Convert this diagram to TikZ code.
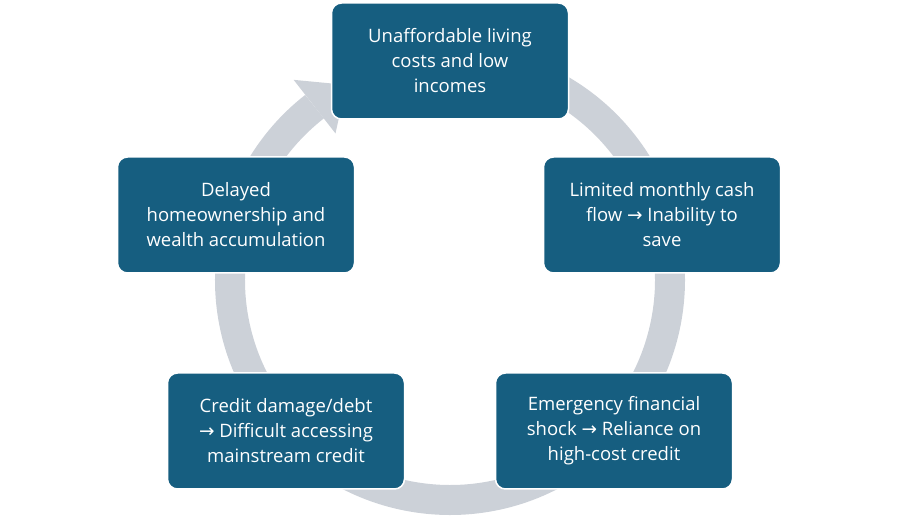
\documentclass[tikz,border=0pt]{standalone}
\usepackage{fontspec}
\setmainfont{Open Sans}
\newfontfamily\symf{DejaVu Sans}
\definecolor{boxc}{HTML}{165E80}
\definecolor{ringc}{HTML}{CCD1D8}
\begin{document}
\begin{tikzpicture}[x=1pt,y=-1pt,
  box/.style={draw=white,line width=1.5pt,fill=boxc,rounded corners=10pt,minimum width=237pt,minimum height=116pt,text=white,align=center,font=\fontsize{18.5}{25}\selectfont}]
\useasboundingbox (0,0) rectangle (900,526);
\coordinate (c) at (450,280);
\draw[ringc,line width=30pt] (c) ++(-128:220) arc[start angle=-128,end angle=-470,radius=220];
\path (c) ++(-128:186) coordinate (b1) (c) ++(-128:254) coordinate (b2) (c) ++(-118:221) coordinate (tp);
\fill[ringc] (b1) -- (b2) -- (tp) -- cycle;
\node[box] (n1) at (450,61) {Unaffordable living\\costs and low\\incomes};
\node[box] (n2) at (662,215) {Limited monthly cash\\flow {\symf →} Inability to\\save};
\node[box] (n3) at (614,431) {Emergency financial\\shock {\symf →} Reliance on\\high-cost credit};
\node[box] (n4) at (286,431) {Credit damage/debt\\{\symf →} Difficult accessing\\mainstream credit};
\node[box] (n5) at (236,215) {Delayed\\homeownership and\\wealth accumulation};
\end{tikzpicture}
\end{document}
